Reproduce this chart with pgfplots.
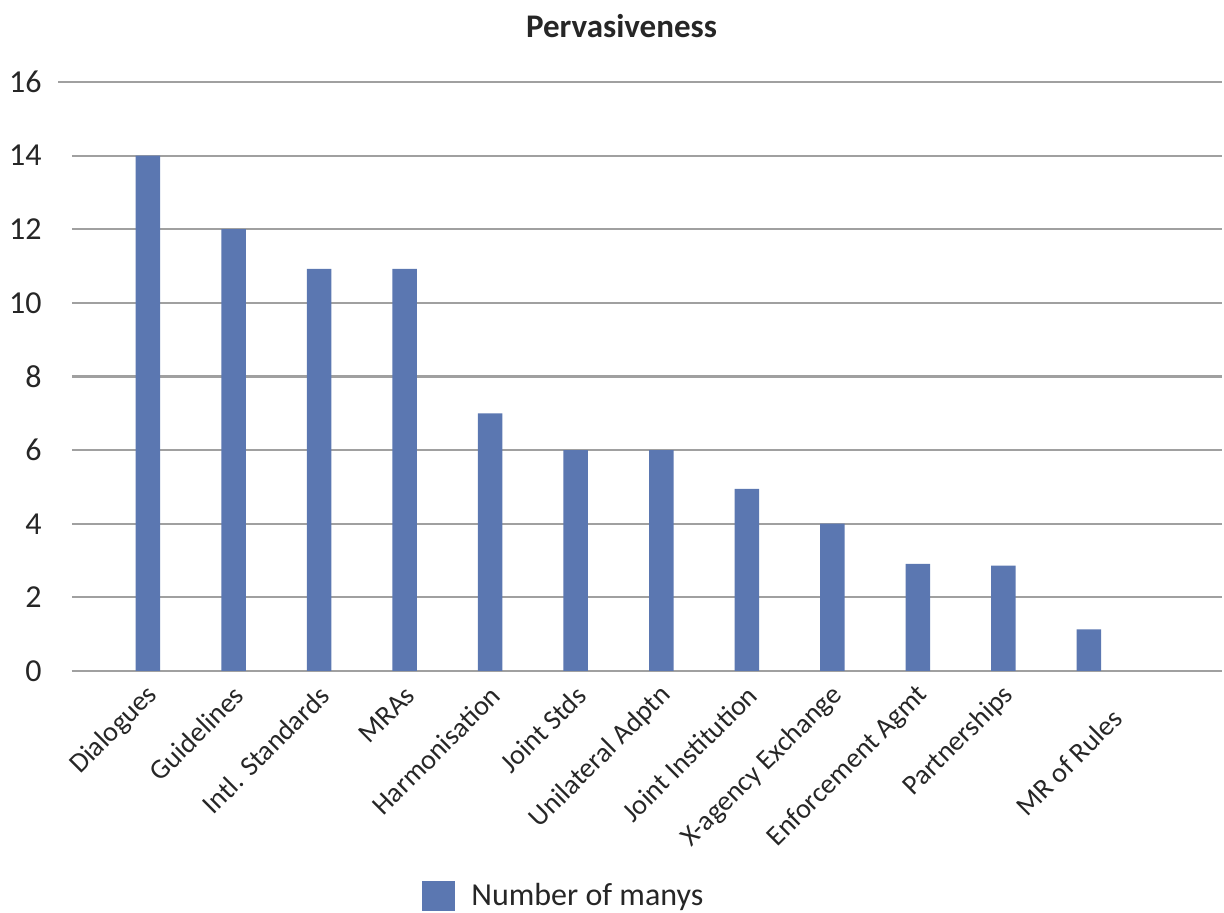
\documentclass[border=0pt]{standalone}
\usepackage{pgfplots}
\pgfplotsset{compat=1.18}
\usepackage{fontspec}
\setmainfont{Carlito}

\definecolor{barblue}{RGB}{91,119,177}
\definecolor{gridgray}{RGB}{160,160,160}
\definecolor{txt}{RGB}{38,38,38}

\begin{document}
\begin{tikzpicture}
\begin{axis}[
  at={(0pt,0pt)}, anchor=south west,
  scale only axis,
  width=575pt, height=294.5pt,
  xmin=-0.888, xmax=12.555,
  ymin=0, ymax=16,
  ytick={0,2,...,16},
  ymajorgrids,
  grid style={gridgray, line width=1.1pt},
  axis line style={draw=none},
  major tick length=0pt,
  extra y ticks={0},
  extra y tick labels={},
  extra y tick style={grid style={gridgray, line width=1.3pt}},
  xtick={0,...,11},
  xticklabels={Dialogues,Guidelines,Intl. Standards,MRAs,Harmonisation,Joint Stds,Unilateral Adptn,Joint Institution,X-agency Exchange,Enforcement Agmt,Partnerships,{\raisebox{-21pt}[0pt][0pt]{MR of Rules}\hspace{11pt}}},
  xticklabel style={rotate=45, anchor=east, font=\fontsize{14}{16}\selectfont, text=txt, inner sep=0pt, xshift=-5pt, yshift=-9pt},
  yticklabel style={font=\fontsize{16}{18}\selectfont, text=txt, anchor=east, inner sep=0pt, xshift=-15pt},
  /pgf/number format/assume math mode=true,
  ybar, bar width=12.25pt,
  legend style={draw=none, fill=none, at={(175pt,-112.5pt)}, anchor=west,
    font=\fontsize{16}{18}\selectfont, text=txt, inner sep=0pt,
    /tikz/every even column/.append style={column sep=0pt}},
  legend cell align=left,
  legend image code/.code={\fill[barblue] (0pt,-7.5pt) rectangle (16.5pt,7.5pt);},
]
\addplot[fill=barblue, draw=none] coordinates {
  (0,14) (1,12) (2,10.92) (3,10.92) (4,7) (5,6)
  (6,6) (7,4.95) (8,4) (9,2.91) (10,2.86) (11,1.13)
};
\addlegendentry{\hspace{6pt}Number of manys}
\end{axis}
% top grid line reaches a little further left
\draw[gridgray, line width=1.1pt] (-7pt,294.5pt) -- (0pt,294.5pt);
\node[anchor=base, font=\bfseries\fontsize{16.5}{19}\selectfont, text=txt] at (274.75pt,316.5pt) {Pervasiveness};
\pgfresetboundingbox
\path (-36pt,-121pt) rectangle (576pt,335.5pt);
\end{tikzpicture}
\end{document}
